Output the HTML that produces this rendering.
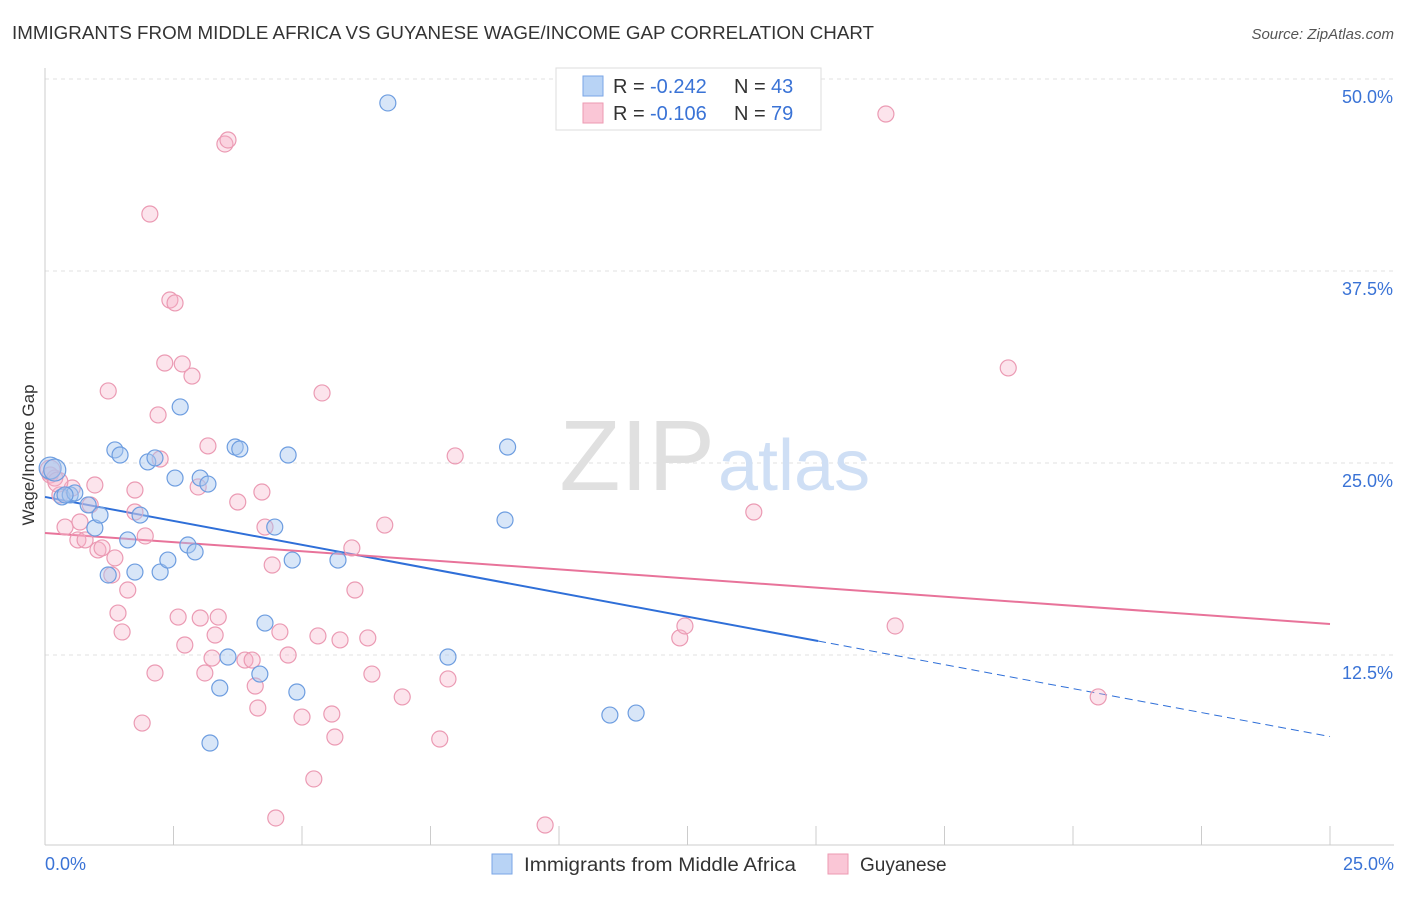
<!DOCTYPE html>
<html><head><meta charset="utf-8">
<style>
body{margin:0;background:#fff;font-family:"Liberation Sans",sans-serif;}
svg text{font-family:"Liberation Sans",sans-serif;}
</style></head>
<body>
<svg id="chart" width="1406" height="892">
<text x="12" y="39" font-size="18" fill="#333" textLength="862" lengthAdjust="spacingAndGlyphs">IMMIGRANTS FROM MIDDLE AFRICA VS GUYANESE WAGE/INCOME GAP CORRELATION CHART</text>
<text x="1394" y="39" font-size="15" fill="#555" font-style="italic" text-anchor="end">Source: ZipAtlas.com</text>
<g id="grid"></g>
<g id="axes"></g>
<text x="715" y="490" font-size="100" fill="#e0e0e0" text-anchor="end" font-family="Liberation Serif">ZIP</text>
<text x="718" y="490" font-size="72" fill="#cfdff5">atlas</text>
<g id="lines"></g>
<g id="points"></g>
<text transform="translate(34,455) rotate(-90)" font-size="17" fill="#333" text-anchor="middle">Wage/Income Gap</text>
<g>
<rect x="556" y="68" width="265" height="62" fill="#fff" stroke="#ddd"/>
<rect x="583" y="76" width="20" height="20" fill="#b8d3f5" stroke="#7aa6e6"/>
<text x="613" y="93" font-size="20" fill="#333">R =</text>
<text x="650" y="93" font-size="20" fill="#3a73d6">-0.242</text>
<text x="734" y="93" font-size="20" fill="#333">N =</text>
<text x="771" y="93" font-size="20" fill="#3a73d6">43</text>
<rect x="583" y="103" width="20" height="20" fill="#fac6d6" stroke="#ec9ab2"/>
<text x="613" y="120" font-size="20" fill="#333">R =</text>
<text x="650" y="120" font-size="20" fill="#3a73d6">-0.106</text>
<text x="734" y="120" font-size="20" fill="#333">N =</text>
<text x="771" y="120" font-size="20" fill="#3a73d6">79</text>
</g>
<g>
<rect x="492" y="854" width="20" height="20" fill="#b8d3f5" stroke="#7aa6e6"/>
<text x="524" y="871" font-size="19" fill="#333" textLength="272" lengthAdjust="spacingAndGlyphs">Immigrants from Middle Africa</text>
<rect x="828" y="854" width="20" height="20" fill="#fac6d6" stroke="#ec9ab2"/>
<text x="860" y="871" font-size="19" fill="#333">Guyanese</text>
</g>
</svg>
<script>
const blueX=[0.10,0.19,0.33,0.49,0.58,0.84,0.97,1.07,1.23,1.36,1.46,1.61,1.75,1.85,2.00,2.14,2.24,2.39,2.53,2.63,2.78,2.92,3.02,3.17,3.21,3.40,3.56,3.70,3.79,4.18,4.28,4.47,4.73,4.81,4.90,5.70,6.67,7.84,8.95,9.00,10.99,11.50,0.39];
const blueY=[24.67,24.54,22.79,22.92,23.05,22.27,20.77,21.61,17.71,25.85,25.52,19.99,17.90,21.61,25.07,25.33,17.90,18.68,24.02,28.65,19.66,19.21,24.02,23.63,6.77,10.35,12.37,26.04,25.91,11.26,14.58,20.83,25.52,18.68,10.09,18.68,48.44,12.37,21.29,26.04,8.59,8.72,22.92];
const pinkX=[0.1,0.19,0.29,0.39,0.53,0.68,0.64,0.78,0.88,0.97,1.03,1.11,1.23,1.30,1.36,1.42,1.50,1.61,1.75,1.75,1.89,1.95,2.04,2.14,2.20,2.24,2.33,2.43,2.53,2.59,2.67,2.72,2.86,2.98,3.02,3.11,3.17,3.25,3.31,3.37,3.50,3.56,3.75,3.89,4.03,4.09,4.14,4.22,4.28,4.42,4.49,4.57,4.73,5.00,5.23,5.31,5.39,5.58,5.64,5.74,5.97,6.03,6.28,6.36,6.61,6.95,7.68,7.84,7.98,9.73,12.35,12.45,13.79,16.36,16.54,18.74,20.49,0.1,0.25];
const pinkY=[24.22,24.02,22.92,20.83,23.37,21.16,19.99,19.99,22.27,23.57,19.34,19.47,29.69,17.71,18.82,15.23,14.00,16.73,23.24,21.81,8.07,20.25,41.21,11.33,28.13,25.26,31.51,35.61,35.42,14.97,31.45,13.15,30.66,23.44,14.91,11.33,26.11,12.30,13.80,14.97,45.77,46.03,22.46,12.17,12.17,10.48,9.05,23.11,20.83,18.36,1.89,14.00,12.50,8.46,4.43,13.74,29.56,8.66,7.16,13.48,19.47,16.73,13.61,11.26,20.96,9.77,7.03,10.94,25.46,1.43,13.61,14.39,21.81,47.72,14.39,31.19,9.77,24.54,23.76];
const blueTrend=[22.79,13.41,7.19];
const blueTrendX=[0,15.04,25];
const pinkTrend=[20.44,14.52];
const yTicks=[12.5,25.0,37.5,50.0];
const xTickVals=[0,2.5,5,7.5,10,12.5,15,17.5,20,22.5,25];
const NS='http://www.w3.org/2000/svg';
const sx=v=>45+v*51.4, sy=v=>847-v*15.36;
function mk(tag,attrs,parent){const e=document.createElementNS(NS,tag);for(const k in attrs)e.setAttribute(k,attrs[k]);document.getElementById(parent).appendChild(e);return e;}
yTicks.forEach(t=>{
 const g=mk('line',{x1:45,x2:1394,y1:sy(t),y2:sy(t),stroke:'#e2e2e2','stroke-dasharray':'4,4'},'grid');
 
 
 const l=mk('text',{x:1393,y:sy(t)+24,'font-size':18,fill:'#3a73d6','text-anchor':'end'},'axes');
 l.textContent=t.toFixed(1)+'%';
 
 
});
let a=mk('line',{x1:45,x2:45,y1:68,y2:845,stroke:'#ccc'},'axes');


a=mk('line',{x1:45,x2:1394,y1:845,y2:845,stroke:'#ccc'},'axes');


xTickVals.forEach(t=>{
 const tk=mk('line',{x1:sx(t),x2:sx(t),y1:826,y2:845,stroke:'#ccc'},'axes');
 
 
});
[[0,'start'],[25,'end']].forEach(([v,an])=>{
 const l=mk('text',{x:v===0?45:1394,y:870,'font-size':18,fill:'#3a73d6','text-anchor':an},'axes');
 l.textContent=v.toFixed(1)+'%';
 
 
});
let ln=mk('line',{x1:sx(blueTrendX[0]),y1:sy(blueTrend[0]),x2:sx(blueTrendX[1]),y2:sy(blueTrend[1]),stroke:'#2f6fd8','stroke-width':2},'lines');


ln=mk('line',{x1:sx(blueTrendX[1]),y1:sy(blueTrend[1]),x2:sx(blueTrendX[2]),y2:sy(blueTrend[2]),stroke:'#2f6fd8','stroke-width':1,'stroke-dasharray':'8,5'},'lines');


ln=mk('line',{x1:sx(0),y1:sy(pinkTrend[0]),x2:sx(25),y2:sy(pinkTrend[1]),stroke:'#e8739a','stroke-width':2},'lines');


pinkX.forEach((x,i)=>{
 const c=mk('circle',{cx:sx(x),cy:sy(pinkY[i]),r:i>=77?10:8,fill:'rgba(246,178,200,0.35)',stroke:'#eb9ab3','stroke-width':1.2},'points');
 
 
});
blueX.forEach((x,i)=>{
 const c=mk('circle',{cx:sx(x),cy:sy(blueY[i]),r:i<2?11:8,fill:'rgba(169,200,240,0.45)',stroke:'#6d9de0','stroke-width':1.2},'points');
 
 
});
</script>
</body></html>
